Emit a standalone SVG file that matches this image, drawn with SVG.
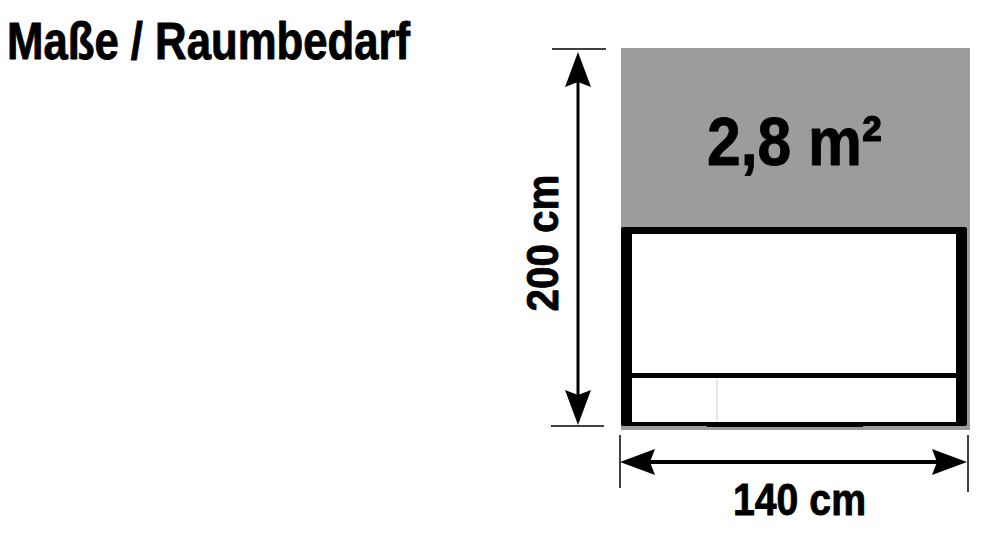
<svg xmlns="http://www.w3.org/2000/svg" width="1002" height="537" viewBox="0 0 1002 537">
<style>
.t{font-family:"Liberation Sans Narrow","Liberation Sans",Arial,sans-serif;font-weight:bold;fill:#000;stroke:#000;stroke-width:0.9;stroke-linejoin:round}
.tick{stroke:#000;stroke-width:1.5}
.dim{stroke:#000;fill:none}
</style>
<defs>
<marker id="ah" viewBox="0 0 35 26" refX="5" refY="13" markerWidth="35" markerHeight="26" markerUnits="userSpaceOnUse" orient="auto-start-reverse">
<path d="M0,0 L35,13 L0,26 L5,13 Z" fill="#000"/>
</marker>
</defs>
<rect width="1002" height="537" fill="#fff"/>
<text id="title" class="t" x="7" y="59" font-size="51" textLength="403" lengthAdjust="spacingAndGlyphs">Maße / Raumbedarf</text>
<g id="area">
<rect x="621" y="48" width="349" height="382" fill="#9c9c9c"/>
<text class="t" x="707" y="165" font-size="69" textLength="175" lengthAdjust="spacingAndGlyphs">2,8 m²</text>
</g>
<g id="bed">
<rect x="621" y="227" width="346" height="199" rx="2" fill="#000"/>
<rect x="632" y="234" width="324" height="188" fill="#fff"/>
<rect x="632" y="373" width="324" height="5" fill="#000"/>
<line x1="717" y1="378" x2="717" y2="422" stroke="#d0d0d0" stroke-width="1"/>
<rect x="707" y="423" width="156" height="4" fill="#000"/>
</g>
<g id="connectors">
<line class="tick" x1="552" y1="49" x2="606" y2="49"/>
<line class="tick" x1="551" y1="426" x2="604" y2="426"/>
<line class="dim" x1="578" y1="82" x2="578" y2="395" stroke-width="3" marker-start="url(#ah)" marker-end="url(#ah)"/>
<line class="tick" x1="620" y1="435" x2="620" y2="488"/>
<line class="tick" x1="968" y1="435" x2="968" y2="492"/>
<line class="dim" x1="650" y1="462" x2="937" y2="462" stroke-width="4" marker-start="url(#ah)" marker-end="url(#ah)"/>
</g>
<g id="label-height">
<text class="t" transform="translate(558,243) rotate(-90)" x="0" y="0" font-size="45" text-anchor="middle" textLength="137" lengthAdjust="spacingAndGlyphs">200 cm</text>
</g>
<g id="label-width">
<text class="t" x="733" y="515" font-size="45" textLength="133" lengthAdjust="spacingAndGlyphs">140 cm</text>
</g>
</svg>
